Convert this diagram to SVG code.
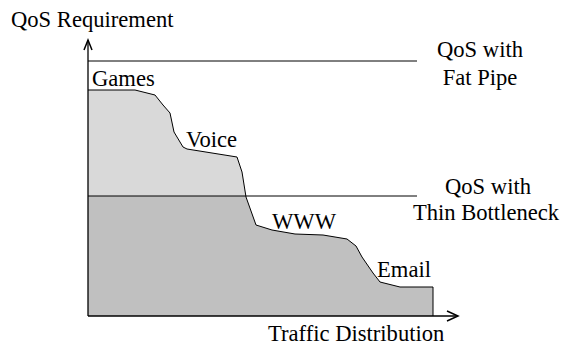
<svg xmlns="http://www.w3.org/2000/svg" width="563" height="347" viewBox="0 0 563 347">
  <style>
    text { font-family: "Liberation Serif", "Times New Roman", serif; font-size: 22.6px; fill: #000; }
    .axis { stroke: #000; stroke-width: 1.3; fill: none; }
    .level { stroke: #000; stroke-width: 1; fill: none; }
    .curve { stroke: #000; stroke-width: 1; fill: none; stroke-linejoin: round; }
    .head { stroke: #000; stroke-width: 1.5; fill: none; }
  </style>
  <defs>
    <!-- area under the traffic curve -->
    <clipPath id="under-curve">
      <path d="M88,90 L135,90 L155,95 L163,105 L170,113 L174,132 L183,147 L187,149 L237,157 L242,172 L246,197 L256,225 L272,230 L295,234 L323,235 L347,239 L356,246 L362,257 L373,273 L380,282 L400,287 L433,287 L433,316 L88,316 Z"/>
    </clipPath>
  </defs>

  <!-- shaded area: light above the bottleneck level, darker below -->
  <g id="area" clip-path="url(#under-curve)">
    <rect x="88" y="80" width="350" height="116" fill="#d9d9d9"/>
    <rect x="88" y="196" width="350" height="120" fill="#c0c0c0"/>
  </g>

  <!-- traffic distribution curve -->
  <g id="curve">
    <path class="curve" d="M88,90 L135,90 L155,95 L163,105 L170,113 L174,132 L183,147 L187,149 L237,157 L242,172 L246,197 L256,225 L272,230 L295,234 L323,235 L347,239 L356,246 L362,257 L373,273 L380,282 L400,287 L433,287 L433,316"/>
  </g>

  <!-- QoS levels -->
  <g id="fat-pipe">
    <line class="level" x1="88" y1="61" x2="417" y2="61"/>
    <text x="480" y="57" text-anchor="middle">QoS with</text>
    <text x="480" y="85" text-anchor="middle">Fat Pipe</text>
  </g>
  <g id="thin-bottleneck">
    <line class="level" x1="88" y1="196" x2="417" y2="196"/>
    <text x="488" y="194" text-anchor="middle">QoS with</text>
    <text x="486" y="220" text-anchor="middle">Thin Bottleneck</text>
  </g>

  <!-- axes -->
  <g id="y-axis">
    <line class="axis" x1="88" y1="316" x2="88" y2="40"/>
    <polyline class="head" points="84,50 88,40 92,50"/>
    <text x="11" y="27">QoS Requirement</text>
  </g>
  <g id="x-axis">
    <line class="axis" x1="88" y1="316" x2="457" y2="316"/>
    <polyline class="head" points="447,311 458,316 447,321"/>
    <text x="268" y="341">Traffic Distribution</text>
  </g>

  <!-- application labels -->
  <g id="games"><text x="92" y="86">Games</text></g>
  <g id="voice"><text x="186" y="147">Voice</text></g>
  <g id="www"><text x="272" y="229">WWW</text></g>
  <g id="email"><text x="377" y="277">Email</text></g>
</svg>
